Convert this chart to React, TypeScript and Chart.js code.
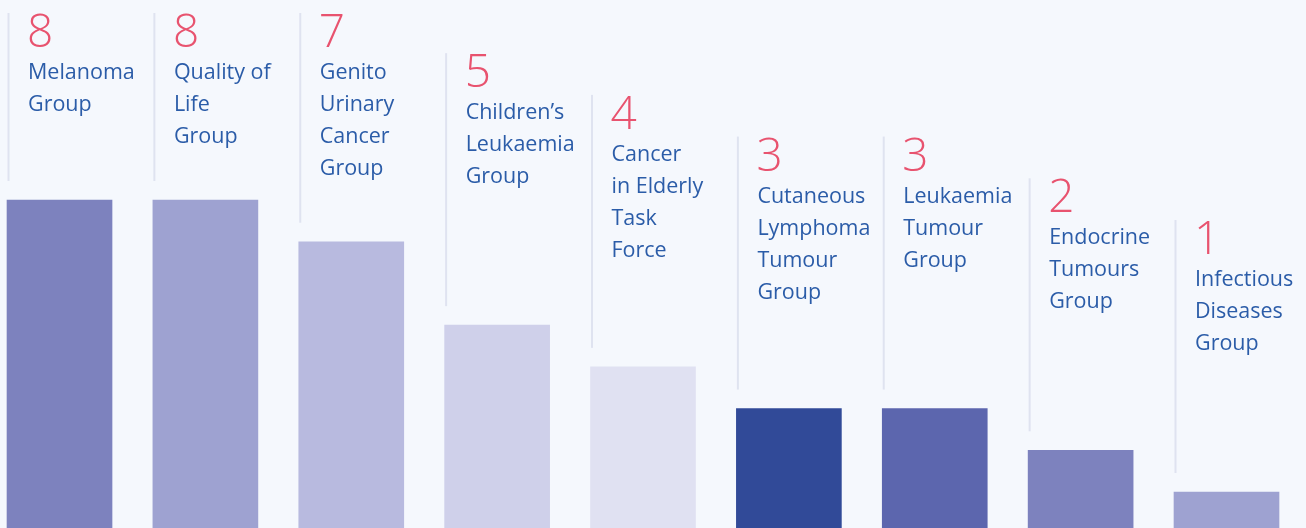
import React, { useEffect, useRef } from "react";
import { Chart, registerables } from "chart.js";

Chart.register(...registerables);

const categories: string[][] = [
  ["Melanoma", "Group"],
  ["Quality of", "Life", "Group"],
  ["Genito", "Urinary", "Cancer", "Group"],
  ["Children’s", "Leukaemia", "Group"],
  ["Cancer", "in Elderly", "Task", "Force"],
  ["Cutaneous", "Lymphoma", "Tumour", "Group"],
  ["Leukaemia", "Tumour", "Group"],
  ["Endocrine", "Tumours", "Group"],
  ["Infectious", "Diseases", "Group"],
];

const values: number[] = [8, 8, 7, 5, 4, 3, 3, 2, 1];

const barColors: string[] = [
  "#7d82be",
  "#9ea2d1",
  "#b8badf",
  "#cfd0ea",
  "#e0e1f2",
  "#314a98",
  "#5c66ae",
  "#7d82be",
  "#9ea2d1",
];

const BG = "#f5f8fd";
const NUM_COLOR = "#e8536f";
const TEXT_COLOR = "#2b5ca8";
const RULE_COLOR = "#dfe3f0";

const labelPlugin = {
  id: "barLabels",
  afterDatasetsDraw(chart: any) {
    const ctx = chart.ctx as CanvasRenderingContext2D;
    const meta = chart.getDatasetMeta(0);
    ctx.save();
    meta.data.forEach((bar: any, i: number) => {
      const props = bar.getProps(["x", "y", "width"], true);
      const left = props.x - props.width / 2;
      const top = props.y;
      const lineX = left + 1.5;
      const lineTop = Math.max(13, top - 272);
      const lineBottom = top - 19;
      ctx.strokeStyle = RULE_COLOR;
      ctx.lineWidth = 2;
      ctx.beginPath();
      ctx.moveTo(lineX, lineTop);
      ctx.lineTo(lineX, lineBottom);
      ctx.stroke();

      const textX = left + 21;
      const numBase = lineTop + 34;
      ctx.textBaseline = "alphabetic";
      ctx.textAlign = "left";
      ctx.fillStyle = NUM_COLOR;
      ctx.font = '300 46px "Open Sans", sans-serif';
      ctx.fillText(String(values[i]), textX - 1, numBase);

      ctx.fillStyle = TEXT_COLOR;
      ctx.font = '400 21.5px "Open Sans", sans-serif';
      categories[i].forEach((line, k) => {
        ctx.fillText(line, textX, numBase + 32 * (k + 1));
      });
    });
    ctx.restore();
  },
};

export default function App() {
  const canvasRef = useRef<HTMLCanvasElement | null>(null);

  useEffect(() => {
    if (!canvasRef.current) return;
    const chart = new Chart(canvasRef.current, {
      type: "bar",
      data: {
        datasets: [
          {
            data: values.map((v, i) => ({ x: i, y: v })),
            backgroundColor: barColors,
            borderWidth: 0,
            barThickness: 105,
          },
        ],
      },
      options: {
        animation: false,
        responsive: true,
        maintainAspectRatio: false,
        layout: { padding: 0 },
        plugins: {
          legend: { display: false },
          tooltip: { enabled: false },
        },
        scales: {
          x: {
            type: "linear",
            display: false,
            offset: false,
            min: -0.408,
            max: 8.545,
            grid: { display: false, offset: false },
          },
          y: {
            type: "linear",
            display: false,
            min: 0.137,
            max: 12.795,
            grid: { display: false },
          },
        },
      },
      plugins: [labelPlugin],
    });
    return () => chart.destroy();
  }, []);

  return (
    <div
      style={{
        position: "fixed",
        left: 0,
        top: 0,
        width: 1306,
        height: 528,
        background: BG,
      }}
    >
      <canvas ref={canvasRef} />
    </div>
  );
}
